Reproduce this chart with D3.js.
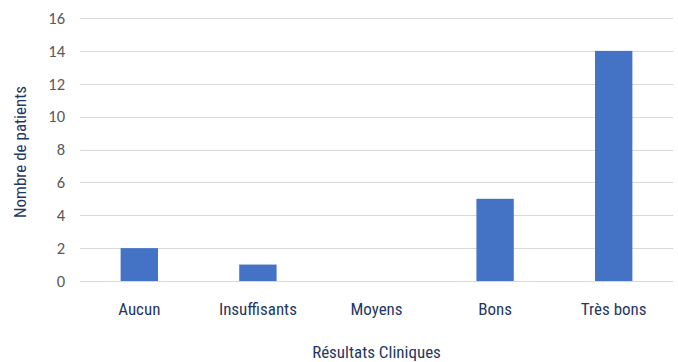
<!DOCTYPE html>
<html>
<head>
<meta charset="utf-8">
<script src="https://cdn.jsdelivr.net/npm/d3@7"></script>
<style>
  body { margin: 0; background: #fff; }
</style>
</head>
<body>
<div id="chart-area"></div>
<script>
// Data
const categories = ["Aucun", "Insuffisants", "Moyens", "Bons", "Très bons"];
const patients = [2, 1, 0, 5, 14];
const yTicks = [0, 2, 4, 6, 8, 10, 12, 14, 16];

const width = 678;
const height = 362;
const margin = { top: 18, right: 5, bottom: 81, left: 80 };

const svg = d3.select("#chart-area")
    .append("svg")
    .attr("width", width)
    .attr("height", height);

const x = d3.scaleBand()
    .domain(categories)
    .range([margin.left, width - margin.right])
    .padding(0);

const y = d3.scaleLinear()
    .domain([0, 16])
    .range([height - margin.bottom, margin.top]);

const barWidth = x.bandwidth() * 0.315; // gap width about 219%

// Gridlines
svg.selectAll(".grid")
    .data(yTicks)
    .enter()
    .append("line")
    .attr("class", "grid")
    .attr("x1", margin.left)
    .attr("x2", width - margin.right)
    .attr("y1", d => Math.round(y(d)) + 0.5)
    .attr("y2", d => Math.round(y(d)) + 0.5)
    .attr("stroke", "#d9d9d9")
    .attr("stroke-width", 1);

// Y tick labels
svg.selectAll(".y-label")
    .data(yTicks)
    .enter()
    .append("text")
    .attr("class", "y-label")
    .attr("x", 65)
    .attr("y", d => y(d))
    .attr("dy", ".35em")
    .attr("text-anchor", "end")
    .style("font-family", "Carlito, 'Open Sans', sans-serif")
    .style("font-size", "16.5px")
    .style("fill", "#595959")
    .text(d => d);

// Bars
svg.selectAll(".bar")
    .data(patients)
    .enter()
    .append("rect")
    .attr("class", "bar")
    .attr("x", (d, i) => x(categories[i]) + (x.bandwidth() - barWidth) / 2)
    .attr("y", d => y(d))
    .attr("width", barWidth)
    .attr("height", d => y(0) - y(d))
    .attr("fill", "#4472c4");

// Category labels
svg.selectAll(".x-label")
    .data(categories)
    .enter()
    .append("text")
    .attr("class", "x-label")
    .attr("x", d => x(d) + x.bandwidth() / 2)
    .attr("y", 315)
    .attr("text-anchor", "middle")
    .style("font-family", "'Liberation Sans Narrow', 'Roboto Condensed', Roboto, sans-serif")
    .style("font-size", "17px")
    .style("fill", "#1f3864")
    .text(d => d);

// Axis titles
svg.append("text")
    .attr("x", (margin.left + width - margin.right) / 2)
    .attr("y", 358)
    .attr("text-anchor", "middle")
    .style("font-family", "'Liberation Sans Narrow', 'Roboto Condensed', Roboto, sans-serif")
    .style("font-size", "17px")
    .style("fill", "#1f3864")
    .text("Résultats Cliniques");

svg.append("text")
    .attr("transform", "translate(26," + 152 + ") rotate(-90)")
    .attr("text-anchor", "middle")
    .style("font-family", "'Liberation Sans Narrow', 'Roboto Condensed', Roboto, sans-serif")
    .style("font-size", "17px")
    .style("fill", "#1f3864")
    .text("Nombre de patients");
</script>
</body>
</html>
